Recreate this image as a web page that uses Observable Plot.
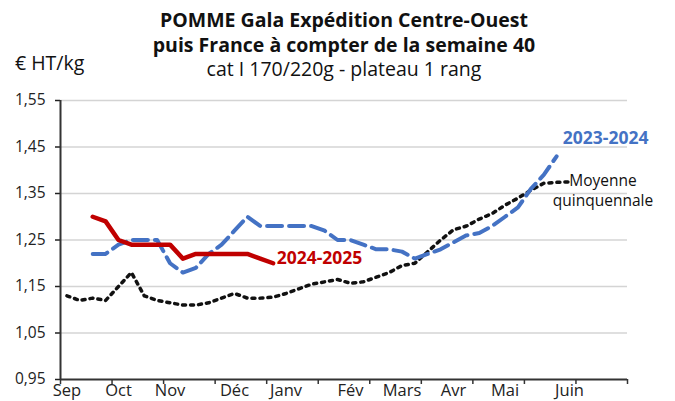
<!DOCTYPE html>
<html><head><meta charset="utf-8">
<script src="https://cdn.jsdelivr.net/npm/d3@7"></script>
<script src="https://cdn.jsdelivr.net/npm/@observablehq/plot@0.6"></script>
<style>
body{margin:0;background:#fff;font-family:"Open Sans",sans-serif;}
#wrap{position:relative;width:675px;height:401px;overflow:hidden;}
#chart{position:absolute;left:0;top:0;}
#title{position:absolute;left:14px;top:8px;width:660px;text-align:center;color:#111;font-size:19.5px;line-height:24.5px;}
#title b{font-weight:700;}
#unit{position:absolute;left:15px;top:50px;font-size:19.5px;line-height:26px;color:#111;}
</style></head><body>
<div id="wrap">
<div id="chart"></div>
<div id="title"><b>POMME Gala Expédition Centre-Ouest</b><br><b>puis France à compter de la semaine 40</b><br>cat I 170/220g - plateau 1 rang</div>
<div id="unit">€ HT/kg</div>
</div>
<script>
// weekly categories (index 0 = first week of September)
const weeks = d3.range(0, 40);
const serie2024_2025 = [null,null,1.30,1.29,1.25,1.24,1.24,1.24,1.24,1.21,1.22,1.22,1.22,1.22,1.22,1.21,1.20];
const serie2023_2024 = [null,null,1.22,1.22,1.24,1.25,1.25,1.25,1.20,1.18,1.19,1.22,1.24,1.27,1.30,1.28,1.28,1.28,1.28,1.28,1.27,1.25,1.25,1.24,1.23,1.23,1.225,1.21,1.22,1.23,1.245,1.26,1.265,1.28,1.30,1.32,1.36,1.39,1.43];
const moyenne5 = [1.13,1.12,1.125,1.12,1.15,1.18,1.13,1.12,1.115,1.11,1.11,1.115,1.125,1.135,1.125,1.125,1.127,1.135,1.145,1.155,1.16,1.165,1.157,1.16,1.17,1.18,1.195,1.20,1.225,1.25,1.272,1.28,1.295,1.307,1.325,1.34,1.357,1.372,1.374,1.375];
const monthLabels = ["Sep","Oct","Nov","Déc","Janv","Fév","Mars","Avr","Mai","Juin"];
const monthWeek = [0,4,8,13,17,22,26,30,34,39];
const xTicks = [0,4,8,12,16,20,24,28,32,36,40,44];
const yTicks = [0.95,1.05,1.15,1.25,1.35,1.45,1.55];

const toRows = arr => arr.map((v, i) => ({x: weeks[i] + 0.5, y: v})).filter(d => d.y != null);
const months = monthLabels.map((m, i) => ({label: m, x: monthWeek[i] + 0.5}));

const chart = Plot.plot({
  width: 675, height: 401,
  marginLeft: 60, marginRight: 48, marginTop: 100, marginBottom: 22,
  style: {fontFamily: "'Open Sans', sans-serif", background: "transparent"},
  x: {domain: [0, 44], axis: null},
  y: {domain: [0.95, 1.55], axis: null},
  marks: [
    Plot.ruleY(yTicks.slice(1), {stroke: "#d4d4d4", strokeWidth: 1.5}),
    Plot.axisY({ticks: yTicks, label: null, tickFormat: d => d.toFixed(2).replace(".", ","), tickSize: 5, tickPadding: 10, fontSize: 15.5, color: "#222", strokeWidth: 1.5}),
    Plot.axisX({ticks: xTicks, label: null, tickFormat: () => "", tickSize: 5, color: "#333", strokeWidth: 1.5}),
    Plot.ruleX([0], {stroke: "#333", strokeWidth: 2}),
    Plot.ruleY([0.95], {stroke: "#333", strokeWidth: 2}),
    Plot.text(months, {x: "x", y: () => 0.95, dy: 11, text: "label", fontSize: 16.5, fill: "#222"}),
    Plot.line(toRows(moyenne5), {x: "x", y: "y", stroke: "#111", strokeWidth: 3.5, strokeDasharray: "3 5"}),
    Plot.line(toRows(serie2023_2024), {x: "x", y: "y", stroke: "#4472C4", strokeWidth: 4, strokeDasharray: "15 7"}),
    Plot.line(toRows(serie2024_2025), {x: "x", y: "y", stroke: "#C00000", strokeWidth: 4.5, strokeLinejoin: "round"}),
    Plot.text(["2024-2025"], {x: () => 20.1, y: () => 1.21, fontSize: 17.5, fontWeight: "bold", fill: "#C00000"}),
    Plot.text(["2023-2024"], {x: () => 42.3, y: () => 1.468, fontSize: 17.5, fontWeight: "bold", fill: "#4472C4"}),
    Plot.text(["Moyenne\nquinquennale"], {x: () => 42.1, y: () => 1.358, fontSize: 15.5, fill: "#111", lineHeight: 1.3})
  ]
});
document.getElementById("chart").appendChild(chart);
</script>
</body></html>
